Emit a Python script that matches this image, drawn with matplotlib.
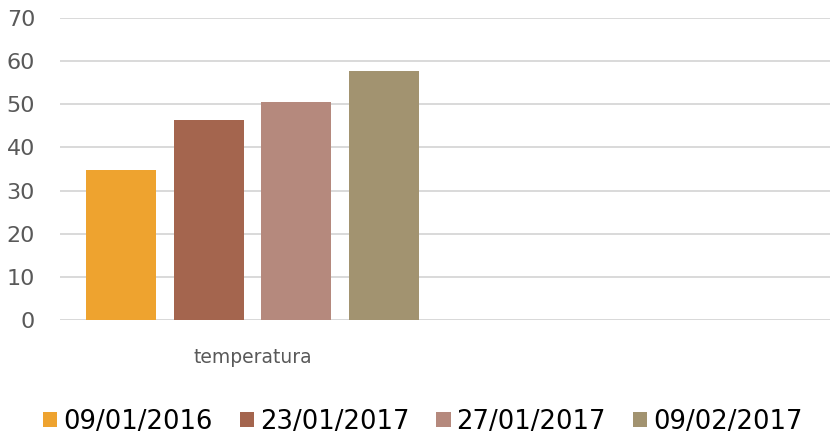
import matplotlib
matplotlib.use("Agg")
import matplotlib.pyplot as plt
from matplotlib.patches import Patch
import numpy as np

# data
categories = ["temperatura", ""]
series_names = ["09/01/2016", "23/01/2017", "27/01/2017", "09/02/2017"]
series_values = [[34.8, None], [46.4, None], [50.6, None], [57.8, None]]
colors = ["#EEA32F", "#A4654E", "#B5897D", "#A29370"]
y_ticks = [0, 10, 20, 30, 40, 50, 60, 70]

fig = plt.figure(figsize=(8.34, 4.38), dpi=100)
ax = fig.add_axes([0.072, 0.269, 0.923, 0.690])

n = len(series_names)
step = 0.2273
width = 0.182
x = np.arange(len(categories)) + 0.5
for i, (name, vals) in enumerate(zip(series_names, series_values)):
    xs = [xc + (i - (n - 1) / 2) * step for xc, v in zip(x, vals) if v is not None]
    ys = [v for v in vals if v is not None]
    ax.bar(xs, ys, width=width, color=colors[i], zorder=3, label=name)

ax.set_xlim(0, len(categories))
ax.set_ylim(0, 70)
ax.set_yticks(y_ticks)
ax.set_xticks(x)
ax.set_xticklabels(categories)
ax.yaxis.grid(True, color="#D9D9D9", linewidth=1.4, zorder=0)
ax.tick_params(axis="y", length=0, pad=18, labelsize=16, labelcolor="#595959")
ax.tick_params(axis="x", length=0, pad=20, labelsize=13.5, labelcolor="#595959")
for s in ax.spines.values():
    s.set_visible(False)
ax.axhline(0, color="#D9D9D9", linewidth=1.4, zorder=2)

handles = [Patch(facecolor=c) for c in colors]
fig.legend(handles, series_names, loc="center", bbox_to_anchor=(0.507, 0.037),
           ncol=4, frameon=False, handlelength=0.55, handleheight=0.5,
           handletextpad=0.23, columnspacing=1.05,
           prop={"size": 18.6})

fig.savefig("out.png", dpi=100)
